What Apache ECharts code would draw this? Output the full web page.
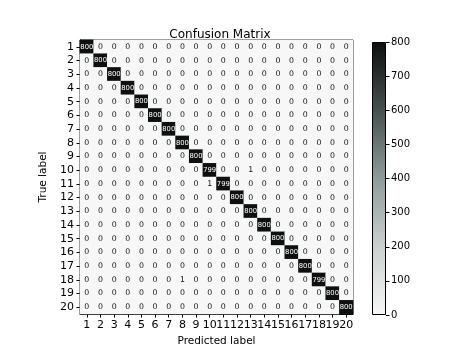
<!DOCTYPE html>
<html><head><meta charset="utf-8">
<script src="https://cdn.jsdelivr.net/npm/echarts@6/dist/echarts.min.js"></script>
<style>html,body{margin:0;padding:0;background:#fff}#c{width:474px;height:355px}</style>
</head><body><div id="c"></div>
<script>
const labels = ['1','2','3','4','5','6','7','8','9','10','11','12','13','14','15','16','17','18','19','20'];
// diagonal counts (true label i predicted as i)
const diagonal = [800,800,800,800,800,800,800,800,800,799,799,800,800,800,800,800,800,799,800,800];
// off-diagonal non-zero entries: [trueLabel, predictedLabel, count]
const offDiagonal = [[10,13,1],[11,10,1],[18,8,1]];
const colorbarTicks = [0,100,200,300,400,500,600,700,800];
const cmap = ['#f7f7f7','#c9d1cf','#8d9c9a','#45514f','#0e0f0f'];

const n = labels.length;
const data = [];
for (let t = 0; t < n; t++) {
  for (let p = 0; p < n; p++) {
    let v = 0;
    if (t === p) v = diagonal[t];
    offDiagonal.forEach(e => { if (e[0] - 1 === t && e[1] - 1 === p) v = e[2]; });
    data.push({ value: [p, t, v], label: { color: v > 400 ? '#fff' : '#111', fontSize: v > 400 ? 6.8 : 7.8 } });
  }
}

const chart = echarts.init(document.getElementById('c'));
const font = 'DejaVu Sans';
chart.setOption({
  animation: false,
  textStyle: { fontFamily: font },
  title: { text: 'Confusion Matrix', left: 215, top: 24, textAlign: 'center',
    textStyle: { fontFamily: font, fontSize: 12, fontWeight: 'normal', color: '#000' } },
  grid: [
    { left: 80, top: 40, width: 273, height: 274, show: true, borderColor: '#000', borderWidth: 1, backgroundColor: 'transparent' },
    { left: 372, top: 42, width: 14, height: 273, show: false }
  ],
  xAxis: [
    { type: 'category', data: labels, gridIndex: 0, position: 'bottom',
      name: 'Predicted label', nameLocation: 'middle', nameGap: 22,
      nameTextStyle: { fontFamily: font, fontSize: 10.5, color: '#000' },
      axisLine: { show: true, lineStyle: { color: '#000' } },
      axisTick: { show: true, alignWithLabel: true, length: 3.5, lineStyle: { color: '#000' } },
      axisLabel: { interval: 0, fontSize: 11, color: '#000', margin: 6, fontFamily: font },
      splitLine: { show: false } },
    { type: 'category', data: [''], gridIndex: 1, show: false }
  ],
  yAxis: [
    { type: 'category', data: labels, gridIndex: 0, inverse: true,
      name: 'True label', nameLocation: 'middle', nameGap: 18, nameRotate: 90,
      nameTextStyle: { fontFamily: font, fontSize: 10.5, color: '#000' },
      axisLine: { show: true, lineStyle: { color: '#000' } },
      axisTick: { show: true, alignWithLabel: true, length: 3.5, lineStyle: { color: '#000' } },
      axisLabel: { interval: 0, fontSize: 11, color: '#000', margin: 6, fontFamily: font },
      splitLine: { show: false } },
    { type: 'value', gridIndex: 1, position: 'right', min: 0, max: 800, interval: 100,
      axisLine: { show: false },
      axisTick: { show: true, length: 3.5, lineStyle: { color: '#000' } },
      axisLabel: { fontSize: 10, color: '#000', margin: 5, fontFamily: font },
      splitLine: { show: false } }
  ],
  visualMap: { show: false, min: 0, max: 800, seriesIndex: 0, inRange: { color: cmap } },
  series: [
    { type: 'heatmap', xAxisIndex: 0, yAxisIndex: 0, data: data,
      label: { show: true, fontFamily: font, formatter: p => p.value[2] },
      itemStyle: { borderWidth: 0 } },
    { type: 'bar', xAxisIndex: 1, yAxisIndex: 1, data: [colorbarTicks[colorbarTicks.length - 1]],
      barWidth: '100%', silent: true,
      itemStyle: { borderColor: '#000', borderWidth: 1,
        color: new echarts.graphic.LinearGradient(0, 1, 0, 0,
          cmap.map((c, i) => ({ offset: i / (cmap.length - 1), color: c }))) } }
  ]
});
</script></body></html>
